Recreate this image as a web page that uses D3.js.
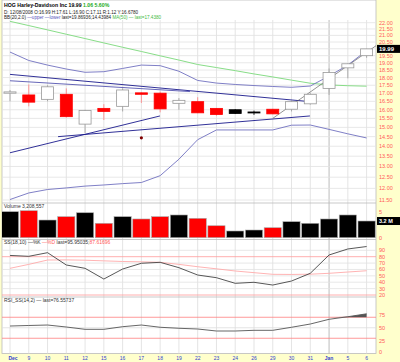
<!DOCTYPE html>
<html>
<head>
<meta charset="utf-8">
<script src="https://cdn.jsdelivr.net/npm/d3@7"></script>
<style>
  body { margin: 0; background: #ffffcc; }
  svg { display: block; font-family: "Liberation Sans", Arial, sans-serif; }
</style>
</head>
<body>
<svg id="chart" width="400" height="362"></svg>
<script>
// --- data (HOG daily, Dec 8 2008 .. Jan 6 2009) ---
const dayLabels = ["Dec","9","10","11","12","15","16","17","18","19","22","23","24","26","29","30","31","Jan","5","6"];
const opens  = [17.00,16.89,16.62,16.93,15.18,16.08,16.20,17.02,17.00,16.38,16.48,16.08,16.00,15.87,16.03,16.03,16.35,17.30,18.65,19.50];
const highs  = [17.20,17.55,17.50,17.30,16.00,16.33,17.30,17.05,17.10,16.70,16.75,16.10,16.03,15.95,16.05,16.55,17.00,18.60,18.95,20.00];
const lows   = [16.50,16.20,16.50,15.55,14.70,15.41,15.90,16.40,15.85,16.00,15.80,15.65,15.75,15.70,15.74,15.90,16.30,16.90,17.95,19.35];
const closes = [17.08,16.45,17.40,15.60,15.95,15.90,17.20,16.93,16.05,16.56,15.82,15.72,15.78,15.86,15.76,16.48,16.93,18.33,18.93,19.99];
const bbUpper = [19.76,19.16,18.84,18.57,18.35,18.39,18.61,18.84,18.80,18.42,17.81,17.64,17.55,17.48,17.42,17.37,17.45,18.10,18.84,19.87];
const bbLower = [11.52,11.80,11.95,12.02,12.10,12.15,12.21,12.26,12.57,13.35,14.34,14.86,14.86,14.86,14.86,15.12,15.13,14.89,14.65,14.43];
const ma50    = [22.11,21.77,21.43,21.09,20.76,20.43,20.11,19.80,19.49,19.19,18.88,18.67,18.46,18.24,18.04,17.83,17.63,17.52,17.47,17.44];
const volumes = [5.00,5.19,3.40,4.04,4.80,2.77,4.04,3.60,4.04,4.37,3.73,2.30,1.29,1.48,1.92,3.08,2.77,3.60,4.37,3.21];
const ssK = [82.0,80.6,86.3,67.0,61.8,45.0,60.7,69.7,71.2,62.8,51.3,47.1,38.3,39.9,35.6,41.9,54.0,82.7,92.1,95.95];
const ssD = [61.8,68.0,74.8,75.0,74.5,73.5,72.5,72.0,71.2,68.0,64.3,61.0,57.6,55.0,52.4,52.2,52.6,54.0,56.0,58.0];
const rsi = [53.3,54.3,55.2,51.4,47.0,47.0,52.0,55.2,50.9,49.0,47.6,43.8,43.8,45.1,45.1,50.9,57.1,66.1,71.0,76.56];
// hand drawn trend lines: [day index, price]
const trendFrom = [[0,18.21],[0,17.79],[0,13.67],[2.56,14.50],[14.01,15.51]];
const trendTo   = [[16,16.48],[9.59,17.10],[7.99,15.64],[15.98,15.64],[19.55,20.27]];
const trendColor = ["#1a1a8c","#5555b0","#1a1a8c","#1a1a8c","#666"];
const priceTicks = d3.range(11.5, 22.01, 0.5);
const ssTicks = [20,30,40,50,60,70,80,90];
const rsiTicks = [0,25,50,75];

const svg = d3.select("#chart");
const L = 2, R = 376;
const priceTop = 20, priceBot = 203, volBot = 239.5, ssBot = 297, rsiBot = 353.5;

const x = d3.scaleLinear().domain([0, 19]).range([10, 366.6]);
const yPrice = d3.scaleLog().domain([11.5, 22]).range([200, 22.7]);
const yVol = d3.scaleLinear().domain([0, 5]).range([237.7, 211.7]);
const ySS = d3.scaleLinear().domain([20, 80]).range([295, 256.7]);
const yRSI = d3.scaleLinear().domain([0, 100]).range([354, 301.5]);

// frame
svg.append("rect").attr("x", L).attr("y", 0).attr("width", R - L).attr("height", rsiBot)
   .attr("fill", "#fff").attr("stroke", "#bbb").attr("stroke-width", 0.8);

const defs = svg.append("defs");
[["clipPrice", priceTop, priceBot], ["clipVol", priceBot, volBot], ["clipSS", volBot, ssBot], ["clipRSI", ssBot, rsiBot]]
  .forEach(([id, t, b]) => {
    defs.append("clipPath").attr("id", id).append("rect")
        .attr("x", L).attr("y", t).attr("width", R - L).attr("height", b - t);
  });

// vertical grid across all panels
svg.append("g").selectAll("line").data(dayLabels).enter().append("line")
   .attr("x1", (d, i) => x(i)).attr("x2", (d, i) => x(i))
   .attr("y1", priceTop).attr("y2", rsiBot)
   .attr("stroke", d => d === "Jan" ? "#aaa" : "#ddd").attr("stroke-width", 0.8);

// price panel horizontal grid
svg.append("g").selectAll("line").data(priceTicks).enter().append("line")
   .attr("x1", L).attr("x2", R).attr("y1", d => yPrice(d)).attr("y2", d => yPrice(d))
   .attr("stroke", "#e2e2e2").attr("stroke-width", 0.8);

// panel separators
[priceBot, volBot, ssBot].forEach(y => {
  svg.append("line").attr("x1", L).attr("x2", R).attr("y1", y).attr("y2", y)
     .attr("stroke", "#bbb").attr("stroke-width", 0.8);
});

// --- price panel ---
const pg = svg.append("g").attr("clip-path", "url(#clipPrice)");
const line = d3.line().x((d, i) => x(i)).y(d => yPrice(d));

pg.append("path").datum(ma50).attr("d", line).attr("fill", "none")
  .attr("stroke", "#88dd88").attr("stroke-width", 1);
[bbUpper, bbLower].forEach(s => {
  pg.append("path").datum(s).attr("d", line).attr("fill", "none")
    .attr("stroke", "#7070c0").attr("stroke-width", 0.9);
});

pg.append("g").selectAll("line").data(trendFrom).enter().append("line")
  .attr("x1", d => x(d[0])).attr("y1", d => yPrice(d[1]))
  .attr("x2", (d, i) => x(trendTo[i][0])).attr("y2", (d, i) => yPrice(trendTo[i][1]))
  .attr("stroke", (d, i) => trendColor[i]).attr("stroke-width", (d, i) => i === 4 ? 0.7 : 0.9);

pg.append("circle").attr("cx", x(7)).attr("cy", yPrice(14.44)).attr("r", 1.6).attr("fill", "#800000");

const candleColor = i => {
  if (i > 0 && closes[i] < closes[i - 1]) return "#ff0000";
  return "#000";
};
const bw = 12;
const candles = pg.append("g").selectAll("g").data(closes).enter().append("g");
candles.append("line")
  .attr("x1", (d, i) => x(i)).attr("x2", (d, i) => x(i))
  .attr("y1", (d, i) => yPrice(highs[i])).attr("y2", (d, i) => yPrice(lows[i]))
  .attr("stroke", (d, i) => candleColor(i) === "#ff0000" ? "#ff8080" : (closes[i] > opens[i] ? "#999" : "#000"))
  .attr("stroke-width", 0.8);
candles.append("rect")
  .attr("x", (d, i) => x(i) - bw / 2).attr("width", bw)
  .attr("y", (d, i) => yPrice(Math.max(opens[i], closes[i])))
  .attr("height", (d, i) => Math.max(1, Math.abs(yPrice(opens[i]) - yPrice(closes[i]))))
  .attr("fill", (d, i) => closes[i] > opens[i] ? "#fff" : candleColor(i))
  .attr("stroke", (d, i) => closes[i] > opens[i] ? "#999" : candleColor(i))
  .attr("stroke-width", 0.8);

// price axis labels
svg.append("g").selectAll("text").data(priceTicks).enter().append("text")
   .attr("x", 379).attr("y", d => yPrice(d) + 2).text(d => d.toFixed(2))
   .attr("font-size", 5.5).attr("fill", "#ff5a5a");
const lastY = yPrice(closes[19]);
svg.append("rect").attr("x", 377).attr("y", lastY - 4).attr("width", 23).attr("height", 8).attr("fill", "#000");
svg.append("text").attr("x", 379).attr("y", lastY + 2).text(closes[19].toFixed(2))
   .attr("font-size", 6).attr("font-weight", "bold").attr("fill", "#fff");

// --- volume panel ---
const vg = svg.append("g").attr("clip-path", "url(#clipVol)");
vg.selectAll("rect").data(volumes).enter().append("rect")
  .attr("x", (d, i) => x(i) - 8.6).attr("width", 17.2)
  .attr("y", d => yVol(d)).attr("height", d => yVol(0) - yVol(d))
  .attr("fill", (d, i) => candleColor(i)).attr("stroke", "#aaa").attr("stroke-width", 0.6);
svg.append("text").attr("x", 379).attr("y", yVol(5) + 2).text("5").attr("font-size", 5.5).attr("fill", "#ff5a5a");
svg.append("text").attr("x", 379).attr("y", yVol(0) + 2).text("0").attr("font-size", 5.5).attr("fill", "#ff5a5a");
svg.append("rect").attr("x", 377).attr("y", yVol(volumes[19]) - 4).attr("width", 23).attr("height", 8).attr("fill", "#000");
svg.append("text").attr("x", 379).attr("y", yVol(volumes[19]) + 2).text("3.2 M")
   .attr("font-size", 5.5).attr("font-weight", "bold").attr("fill", "#fff");
svg.append("text").attr("x", 4).attr("y", 208).text("Volume 3,208,557").attr("font-size", 5).attr("fill", "#333");

// --- slow stochastic panel ---
const sg = svg.append("g").attr("clip-path", "url(#clipSS)");
sg.selectAll("line.grid").data(ssTicks).enter().append("line")
  .attr("x1", L).attr("x2", R).attr("y1", d => ySS(d)).attr("y2", d => ySS(d))
  .attr("stroke", d => (d === 80 || d === 20) ? "#ff9a9a" : "#e2e2e2").attr("stroke-width", 0.8);
const ssLine = d3.line().x((d, i) => x(i)).y(d => ySS(d));
sg.append("path").datum(ssD).attr("d", ssLine).attr("fill", "none").attr("stroke", "#ffaaaa").attr("stroke-width", 0.9);
sg.append("path").datum(ssK).attr("d", ssLine).attr("fill", "none").attr("stroke", "#444").attr("stroke-width", 0.9);
svg.append("g").selectAll("text").data(ssTicks).enter().append("text")
   .attr("x", 379).attr("y", d => ySS(d) + 2).text(d => d).attr("font-size", 5.5).attr("fill", "#ff5a5a");
const ssLabel = svg.append("text").attr("x", 4).attr("y", 244).attr("font-size", 5).attr("fill", "#333");
ssLabel.append("tspan").text("SS(18,10) —%K ");
ssLabel.append("tspan").text("—%D ").attr("fill", "#ff5a5a");
ssLabel.append("tspan").text("last=95.95035;");
ssLabel.append("tspan").text("87.61696").attr("fill", "#ff5a5a");

// --- RSI panel ---
const rg = svg.append("g").attr("clip-path", "url(#clipRSI)");
rg.append("line").attr("x1", L).attr("x2", R).attr("y1", yRSI(50)).attr("y2", yRSI(50)).attr("stroke", "#ddd").attr("stroke-width", 0.8);
[70, 30].forEach(v => {
  rg.append("line").attr("x1", L).attr("x2", R).attr("y1", yRSI(v)).attr("y2", yRSI(v))
    .attr("stroke", "#ff8080").attr("stroke-width", 0.8);
});
const overArea = d3.area().x((d, i) => x(i)).y0(yRSI(70)).y1(d => yRSI(Math.max(d, 70)));
rg.append("path").datum(rsi).attr("d", overArea).attr("fill", "#555");
rg.append("path").datum(rsi).attr("d", d3.line().x((d, i) => x(i)).y(d => yRSI(d)))
  .attr("fill", "none").attr("stroke", "#555").attr("stroke-width", 0.9);
svg.append("g").selectAll("text").data(rsiTicks).enter().append("text")
   .attr("x", 379).attr("y", d => Math.min(yRSI(d) + 2, 354)).text(d => d).attr("font-size", 5.5).attr("fill", "#ff5a5a");
svg.append("text").attr("x", 4).attr("y", 301.5).text("RSI_SS(14,2) — last=76.55737").attr("font-size", 5).attr("fill", "#333");

// --- x axis ---
svg.append("g").selectAll("text").data(dayLabels).enter().append("text")
   .attr("x", (d, i) => x(i) + (i === 0 ? 3 : 0)).attr("y", 359.5).attr("text-anchor", "middle")
   .text(d => d).attr("font-size", 5)
   .attr("font-weight", d => (d === "Dec" || d === "Jan") ? "bold" : "normal")
   .attr("fill", "#3344cc");

// --- header ---
const h1 = svg.append("text").attr("x", 4).attr("y", 6.5).attr("font-size", 5.2).attr("font-weight", "bold");
h1.append("tspan").text("HOG Harley-Davidson Inc   19.99  ");
h1.append("tspan").text("1.06  5.60%").attr("fill", "#22aa22");
svg.append("text").attr("x", 4).attr("y", 13.5).attr("font-size", 4.6).attr("fill", "#222")
   .text("D: 12/08/2008 O:16.99 H:17.61 L:16.90 C:17.11 R:1.12 Y:16.6780");
const h3 = svg.append("text").attr("x", 4).attr("y", 19).attr("font-size", 4.6).attr("fill", "#222");
h3.append("tspan").text("BB(20,2.0) ");
h3.append("tspan").text("—upper —lower ").attr("fill", "#5555bb");
h3.append("tspan").text("last=19.86936;14.43984 ");
h3.append("tspan").text("MA(50) — last=17.4380").attr("fill", "#44bb44");
</script>
</body>
</html>
